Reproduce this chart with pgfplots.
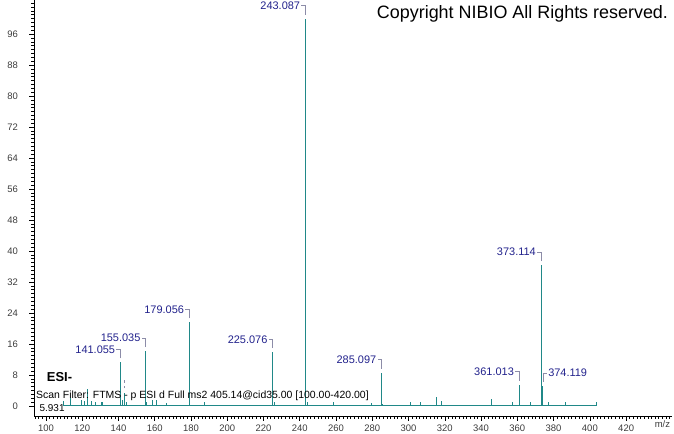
\documentclass[border=0pt]{standalone}
\usepackage{fontspec}
\setmainfont{Liberation Sans}
\usepackage{pgfplots}
\pgfplotsset{compat=1.18}
\definecolor{stick}{HTML}{208888}
\definecolor{lblue}{HTML}{22228C}
\definecolor{brk}{HTML}{8C8CA8}
\definecolor{ticktxt}{HTML}{3C3C3C}

% peak label: bracket to the left of the peak, text left of it
\newcommand\pk[3]{%
  \draw[brk, line width=0.7bp] (axis cs:#1,#2+1) -- (axis cs:#1,#2+3.3) -- (axis cs:#1-2.2,#2+3.3)
    node[anchor=east, inner sep=1bp, text=lblue, font=\fontsize{11}{12}\selectfont] {#3};}
% bracket to the right of the peak
\newcommand\pkr[3]{%
  \draw[brk, line width=0.7bp] (axis cs:#1,#2+1) -- (axis cs:#1,#2+3.3) -- (axis cs:#1+2.2,#2+3.3)
    node[anchor=west, inner sep=1bp, text=lblue, font=\fontsize{11}{12}\selectfont] {#3};}

\begin{document}
\begin{tikzpicture}
\begin{axis}[
  scale only axis,
  width=638bp, height=416bp,
  xmin=93.4, xmax=445.3,
  ymin=-2.6, ymax=104.8,
  axis x line=bottom, axis y line=left,
  axis line style={-, black, line width=0.8bp},
  clip=false,
  xtick={100,120,...,420},
  minor xtick={94,96,...,444},
  ytick={0,8,...,96},
  minor ytick={0,1,...,104},
  extra x ticks={440},
  extra x tick labels={m/z},
  extra x tick style={major tick length=0pt},
  tick align=outside,
  major tick length=4.5bp, minor tick length=2.5bp,
  tick style={black, line width=0.6bp},
  /pgf/number format/assume math mode=true,
  /pgf/number format/1000 sep={},
  tick label style={font=\fontsize{9.5}{10}\selectfont, text=ticktxt},
  yticklabel style={xshift=-8bp},
  xticklabel style={yshift=-1bp},
]
% baseline of the spectrum
\addplot[stick, line width=1bp] coordinates {(109.6,0) (403.8,0)};
% sticks
\addplot[stick, ycomb, line width=1bp, mark=none] coordinates {
  (109.6,1.2) (113.3,2.0) (119.5,1.5) (121.3,1.2) (122.9,4.3) (125.3,1.2)
  (127.1,1.0) (130.8,1.0) (131.3,1.0) (141.055,11.3) (142.2,1.5) (143.3,3.4)
  (144.2,1.0) (155.035,14.2) (155.7,1.0) (158.9,1.5) (161.1,1.5) (166.6,0.8)
  (179.056,21.6) (187.2,1.0) (225.076,13.9) (225.8,1.0) (243.087,100)
  (244.0,1.0) (258.5,1.0) (279.3,0.8) (285.097,8.6) (285.8,0.5) (301.2,1.0)
  (306.7,1.0) (315.2,2.3) (317.9,1.2) (345.9,1.7) (357.5,1.0) (361.013,5.5)
  (367.2,1.0) (373.114,36.4) (374.119,5.2) (377.1,1.0) (386.7,1.0) (403.8,1.0)
};
% hidden label leader at 143.3
\addplot[brk, dashed, line width=0.7bp] coordinates {(143.3,4.5) (143.3,7.2)};

\pk{141.055}{11.3}{141.055}
\pk{155.035}{14.2}{155.035}
\pk{179.056}{21.6}{179.056}
\pk{225.076}{13.9}{225.076}
\pk{243.087}{100}{243.087}
\pk{285.097}{8.6}{285.097}
\pk{361.013}{5.5}{361.013}
\pk{373.114}{36.4}{373.114}
\pkr{374.119}{5.2}{374.119}

\node[anchor=east, inner sep=0pt, font=\fontsize{18}{20}\selectfont]
  at (rel axis cs:0.994,0.966) {Copyright NIBIO All Rights reserved.};
\node[anchor=west, inner sep=0pt, font=\fontsize{13}{14}\selectfont\bfseries]
  at (axis cs:100.4,7.5) {ESI-};
\node[anchor=west, inner sep=0pt, font=\fontsize{10.5}{12}\selectfont]
  at (axis cs:94.5,2.6) {Scan Filter: FTMS - p ESI d Full ms2 405.14@cid35.00 [100.00-420.00]};
\node[anchor=west, inner sep=0pt, font=\fontsize{10}{12}\selectfont]
  at (axis cs:96.4,-0.5) {5.931};
\end{axis}
\pgfresetboundingbox
\path ([shift={(-34bp,-18bp)}]current axis.south west) rectangle ([shift={(2bp,0bp)}]current axis.north east);
\end{tikzpicture}
\end{document}
